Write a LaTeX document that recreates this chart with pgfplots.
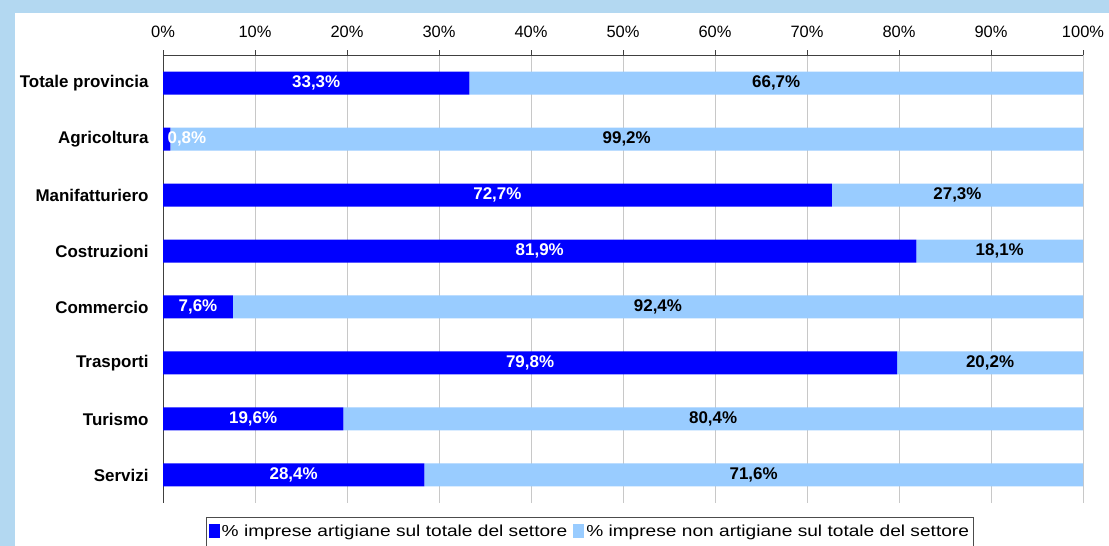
\documentclass[border=0pt]{standalone}
\usepackage{pgfplots}
\usepackage{pgfplotstable}
\pgfplotsset{compat=1.18}
\usepackage{fontspec}
\setmainfont{Liberation Sans}
\newfontfamily\legfont[FakeStretch=1.2]{Liberation Sans}
\definecolor{bgblue}{RGB}{179,216,241}
\definecolor{darkbar}{RGB}{0,0,255}
\definecolor{lightbar}{RGB}{153,204,255}
\definecolor{gridgray}{RGB}{200,200,200}

% y: 7 = Totale provincia (top) ... 0 = Servizi (bottom)
\pgfplotstableread{
y art non
7 33.3 66.7
6 0.8 99.2
5 72.7 27.3
4 81.9 18.1
3 7.6 92.4
2 79.8 20.2
1 19.6 80.4
0 28.4 71.6
}\datatable

\pgfplotstableread{
x y label
16.65 7 33,3
2.60 6 0,8
36.35 5 72,7
40.95 4 81,9
3.80 3 7,6
39.90 2 79,8
9.80 1 19,6
14.20 0 28,4
}\darklabels

\pgfplotstableread{
x y label
66.65 7 66,7
50.40 6 99,2
86.35 5 27,3
90.95 4 18,1
53.80 3 92,4
89.90 2 20,2
59.80 1 80,4
64.20 0 71,6
}\lightlabels

\begin{document}
\begin{tikzpicture}
\useasboundingbox (0,0) rectangle (1109bp,-546bp);
\clip (0,0) rectangle (1109bp,-546bp);
\fill[bgblue] (0,0) rectangle (1109bp,-546bp);
\fill[white] (15bp,-13bp) rectangle (1109bp,-546bp);

\begin{axis}[
  at={(163bp,-55bp)}, anchor=north west,
  scale only axis, width=920bp, height=448bp,
  xbar stacked, bar width=23bp,
  xmin=0, xmax=100, ymin=-0.5, ymax=7.5,
  axis x line=top, axis y line=left,
  axis line style={-, line width=0.8bp, black!75},
  xtick={0,10,...,100},
  xticklabels={0\%,10\%,20\%,30\%,40\%,50\%,60\%,70\%,80\%,90\%,100\%},
  xticklabel style={font=\fontsize{16.5}{19}\selectfont, yshift=9bp},
  xmajorgrids, grid style={gridgray, line width=0.8bp},
  tick align=outside, major tick length=5bp, minor tick length=6bp,
  tick style={black!75, line width=0.8bp},
  ytick={0,...,7},
  yticklabels={Servizi,Turismo,Trasporti,Commercio,Costruzioni,Manifatturiero,Agricoltura,Totale provincia},
  ytick style={draw=none},
  yticklabel style={font=\bfseries\fontsize{17}{19}\selectfont, xshift=-6bp},
  minor ytick={-0.5,0.5,...,7.5},
  legend style={at={(axis description cs:0.464,-0.031)}, anchor=north,
    legend columns=2, draw=black!70, line width=0.8bp,
    font=\legfont\fontsize{16}{19}\selectfont, inner xsep=2bp, inner ysep=6bp,
    /tikz/every even column/.append style={column sep=4bp}},
  legend image code/.code={\fill[#1, draw=none] (0bp,-6bp) rectangle (11bp,8bp);},
]
\addplot[fill=darkbar, draw=none] table[x=art, y=y] {\datatable};
\addplot[fill=lightbar, draw=none] table[x=non, y=y] {\datatable};
\legend{\% imprese artigiane sul totale del settore, \% imprese non artigiane sul totale del settore}
\end{axis}

\begin{axis}[
  at={(163bp,-55bp)}, anchor=north west,
  scale only axis, width=920bp, height=448bp,
  xmin=0, xmax=100, ymin=-0.5, ymax=7.5,
  hide axis,
  point meta=explicit symbolic,
  nodes near coords={\pgfplotspointmeta\%},
  every node near coord/.append style={anchor=center, font=\bfseries\fontsize{17}{19}\selectfont},
]
\addplot[draw=none, mark=none, every node near coord/.append style={text=white}] table[x=x, y=y, meta=label] {\darklabels};
\addplot[draw=none, mark=none, every node near coord/.append style={text=black}] table[x=x, y=y, meta=label] {\lightlabels};
\end{axis}
\end{tikzpicture}
\end{document}
